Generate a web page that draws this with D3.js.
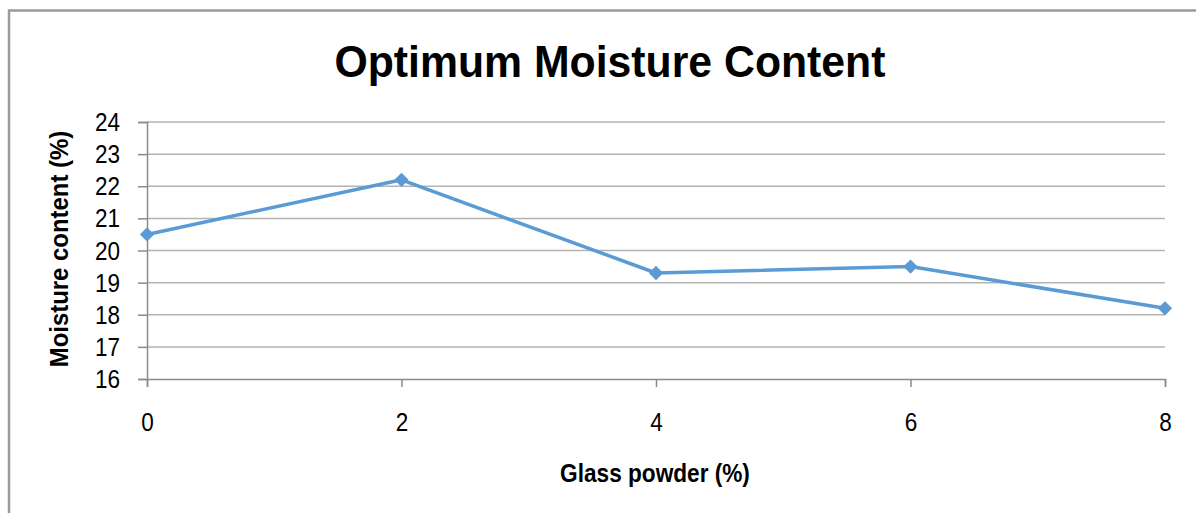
<!DOCTYPE html>
<html>
<head>
<meta charset="utf-8">
<script src="https://cdn.jsdelivr.net/npm/d3@7"></script>
<style>
  body { margin: 0; background: #fff; }
  svg { display: block; }
  text { font-family: "Liberation Sans", Arial, sans-serif; fill: #000; }
</style>
</head>
<body>
<svg id="chart" width="1197" height="513"></svg>
<script>
  var glassPowder = [0, 2, 4, 6, 8];
  var moisture = [20.5, 22.2, 19.3, 19.5, 18.2];
  var yTicks = [16, 17, 18, 19, 20, 21, 22, 23, 24];
  var chartTitle = 'Optimum Moisture Content';
  var xTitle = 'Glass powder (%)';
  var yTitle = 'Moisture content (%)';

  var svg = d3.select('#chart');
  var margin = { left: 147, right: 32, top: 122, bottom: 134 };
  var width = 1197, height = 513;

  // squeeze text horizontally to mimic a narrow face
  function narrow(sel, k) {
    sel.each(function () {
      var len = this.getComputedTextLength();
      d3.select(this)
        .attr('textLength', len * k)
        .attr('lengthAdjust', 'spacingAndGlyphs');
    });
  }

  var x = d3.scaleLinear().domain([0, 8]).range([margin.left, width - margin.right]);
  var y = d3.scaleLinear().domain([16, 24]).range([height - margin.bottom, margin.top]);

  // frame
  svg.append('path')
    .attr('d', 'M9,' + height + 'V10.5H' + (width - 1))
    .attr('fill', 'none')
    .attr('stroke', '#9a9a9a')
    .attr('stroke-width', 2.5);

  // gridlines
  svg.append('g')
    .selectAll('line')
    .data(yTicks.slice(1))
    .enter().append('line')
    .attr('x1', x(0))
    .attr('x2', x(8))
    .attr('y1', function (d) { return y(d); })
    .attr('y2', function (d) { return y(d); })
    .attr('stroke', '#b3b3b3')
    .attr('stroke-width', 1.5);

  var yAxis = svg.append('g')
    .attr('transform', 'translate(' + x(0) + ',0)')
    .call(d3.axisLeft(y).tickValues(yTicks).tickSize(9).tickPadding(18));

  var xAxis = svg.append('g')
    .attr('transform', 'translate(0,' + y(16) + ')')
    .call(d3.axisBottom(x).tickValues(glassPowder).tickSize(8).tickPadding(26));

  [yAxis, xAxis].forEach(function (g) {
    g.select('.domain').attr('stroke', '#8a8a8a').attr('stroke-width', 1.5);
    g.selectAll('.tick line').attr('stroke', '#8a8a8a').attr('stroke-width', 1.5);
    g.selectAll('.tick text')
      .attr('fill', '#000')
      .style('font-family', '"Liberation Sans", Arial, sans-serif')
      .style('font-size', '25px')
      .call(narrow, 0.9);
  });
  yAxis.selectAll('.tick text').attr('dy', '0.34em');

  // series
  var pts = glassPowder.map(function (d, i) { return [d, moisture[i]]; });
  svg.append('path')
    .datum(pts)
    .attr('fill', 'none')
    .attr('stroke', '#5b9bd5')
    .attr('stroke-width', 3.5)
    .attr('stroke-linejoin', 'round')
    .attr('d', d3.line()
      .x(function (d) { return x(d[0]); })
      .y(function (d) { return y(d[1]); }));

  svg.append('g')
    .selectAll('path')
    .data(pts)
    .enter().append('path')
    .attr('transform', function (d) { return 'translate(' + x(d[0]) + ',' + y(d[1]) + ')'; })
    .attr('d', d3.symbol().type(d3.symbolDiamond2).size(130))
    .attr('fill', '#5b9bd5');

  // titles
  svg.append('text')
    .attr('x', 610)
    .attr('y', 77)
    .attr('text-anchor', 'middle')
    .style('font-weight', 'bold')
    .style('font-size', '45px')
    .text(chartTitle)
    .call(narrow, 0.95);

  svg.append('text')
    .attr('x', 655)
    .attr('y', 482)
    .attr('text-anchor', 'middle')
    .style('font-weight', 'bold')
    .style('font-size', '26px')
    .text(xTitle)
    .call(narrow, 0.87);

  svg.append('text')
    .attr('transform', 'translate(68,249)rotate(-90)')
    .attr('text-anchor', 'middle')
    .style('font-weight', 'bold')
    .style('font-size', '26px')
    .text(yTitle)
    .call(narrow, 0.92);
</script>
</body>
</html>
